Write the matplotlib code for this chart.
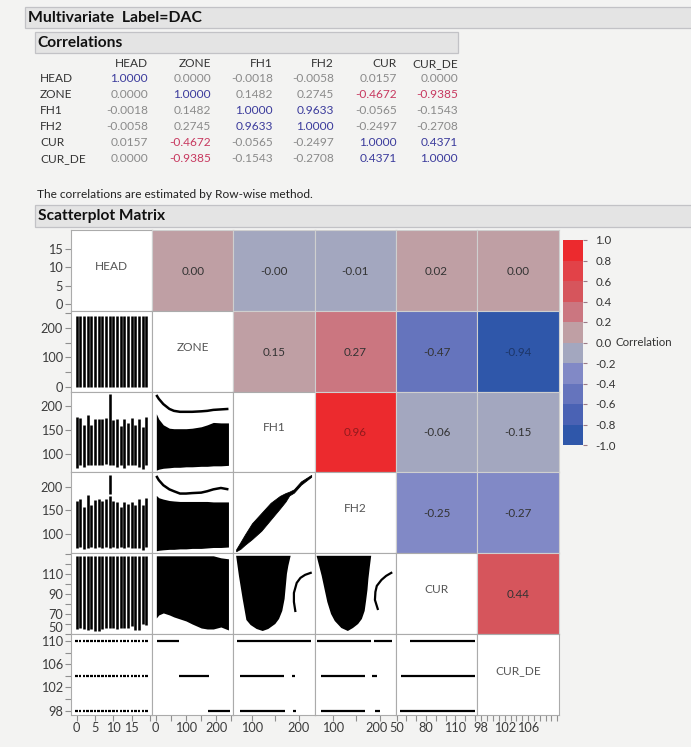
import matplotlib
matplotlib.use('Agg')
import matplotlib.pyplot as plt
from matplotlib.colors import ListedColormap, BoundaryNorm, to_rgb
from matplotlib.patches import Rectangle
from matplotlib.colorbar import ColorbarBase
from matplotlib.transforms import ScaledTranslation

plt.rcParams['font.family'] = ['Lato', 'DejaVu Sans']
plt.rcParams['axes.unicode_minus'] = False

# ---------------- data ----------------
variables = ['HEAD', 'ZONE', 'FH1', 'FH2', 'CUR', 'CUR_DE']
corr = [
    [1.0000, 0.0000, -0.0018, -0.0058, 0.0157, 0.0000],
    [0.0000, 1.0000, 0.1482, 0.2745, -0.4672, -0.9385],
    [-0.0018, 0.1482, 1.0000, 0.9633, -0.0565, -0.1543],
    [-0.0058, 0.2745, 0.9633, 1.0000, -0.2497, -0.2708],
    [0.0157, -0.4672, -0.0565, -0.2497, 1.0000, 0.4371],
    [0.0000, -0.9385, -0.1543, -0.2708, 0.4371, 1.0000],
]

# axis ranges (x as column, y as row)
x_ranges = [(-1.6, 20.5), (-12.3, 256), (59.9, 234.4), (60.8, 234.9), (49.3, 132.4), (97.3, 111.2)]
y_ranges = [(-1.9, 20.3), (-17, 258), (61.4, 228.9), (57.7, 231.5), (50, 130.6), (97.3, 111.2)]
x_major = [[0, 5, 10, 15], [0, 100, 200], [100, 200], [100, 200], [50, 80, 110], [98, 102, 106]]
x_minor = [[20], [50, 150, 250], [150], [150], [60, 70, 90, 100, 120, 130],
           [99, 100, 101, 103, 104, 105, 107, 108, 109, 110, 111]]
y_major = [[0, 5, 10, 15], [0, 100, 200], [100, 150, 200], [100, 150, 200], [50, 70, 90, 110], [98, 102, 106, 110]]
y_minor = [[], [50, 150, 250], [], [], [60, 80, 100, 120, 130], [100, 104, 108]]

# HEAD levels and per-level extents
head_levels = [0, 1, 2, 3, 4, 5, 6, 7, 8, 9, 10, 11, 12, 13, 14, 15, 16, 17, 18, 19]
zone_bar_low = [0, 0, 0, 0, 0, 0, 0, 0, 0, 0, 0, 0, 0, 0, 0, 0, 0, 0, 0, 0]
zone_bar_high = [240, 240, 240, 240, 240, 240, 240, 240, 240, 240, 240, 240, 240, 240, 240, 240, 240, 240, 240, 240]
fh1_bar_low = [70, 76, 72, 77, 76, 77, 76, 77, 79, 76, 76, 72, 76, 70, 77, 76, 76, 72, 69, 76]
fh1_bar_high = [176, 174, 159, 181, 160, 172, 172, 172, 174, 224, 169, 172, 157, 172, 163, 174, 160, 172, 155, 177]
fh2_bar_low = [68, 71, 66, 69, 71, 69, 71, 69, 71, 68, 71, 68, 71, 68, 71, 68, 69, 68, 64, 71]
fh2_bar_high = [171, 174, 157, 182, 162, 173, 174, 171, 175, 180, 169, 168, 157, 168, 164, 168, 161, 174, 162, 176]
fh2_extra_head = [9]
fh2_extra_low = [186]
fh2_extra_high = [225]
cur_bar_low = [55, 56, 55, 54, 55, 53, 53, 55, 56, 56, 56, 55, 56, 56, 56, 58, 54, 54, 60, 59]
cur_bar_high = [128, 128, 128, 128, 128, 128, 128, 128, 128, 128, 128, 128, 128, 128, 128, 128, 128, 128, 128, 128]
curde_levels = [98, 104, 110]

# ZONE profiles
zone_grid = [2, 10, 25, 45, 60, 80, 100, 120, 150, 170, 190, 215, 240]
fh1_zone_bottom = [66, 68, 70, 71, 72, 72, 73, 73, 74, 74, 75, 75, 76]
fh1_zone_top = [183, 172, 160, 153, 152, 152, 152, 153, 156, 160, 165, 164, 164]
fh1_zone_curve = [222, 214, 203, 193, 189, 187, 187, 187, 188, 189, 191, 192, 193]
fh2_zone_bottom = [63, 64, 65, 66, 66, 67, 67, 68, 68, 69, 70, 70, 71]
fh2_zone_top = [182, 177, 174, 171, 170, 169, 169, 169, 169, 169, 168, 168, 168]
fh2_zone_curve = [224, 215, 204, 195, 191, 186, 186, 187, 188, 191, 195, 198, 195]
cur_zone_bottom = [66, 69, 71, 69, 67, 65, 63, 60, 56, 55, 55, 57, 54]
cur_zone_top = [128, 128, 128, 128, 128, 128, 128, 128, 128, 128, 128, 126, 125]

# FH2 vs FH1 band
fh1_band = [66, 75, 85, 100, 120, 140, 160, 172, 180, 190, 205, 227]
fh2_band_low = [62, 67, 76, 88, 106, 130, 154, 169, 182, 188, 205, 222]
fh2_band_high = [66, 81, 98, 122, 144, 166, 181, 187, 190, 195, 212, 226]

# CUR vs FH1 / FH2 outlines
cur_fh1_outline_x = [66, 183, 178, 175, 172, 170, 165, 158, 150, 135, 123, 110, 97, 88, 80, 72]
cur_fh1_outline_y = [128, 128, 118, 110, 95, 85, 73, 65, 60, 55, 53, 55, 59, 64, 85, 108]
cur_fh1_curve_x = [193, 190, 190, 196, 204, 214, 226]
cur_fh1_curve_y = [73, 82, 91, 101, 106, 109, 111]
cur_fh2_outline_x = [65, 182, 179, 176, 174, 171, 168, 162, 154, 143, 132, 118, 104, 96, 88, 76]
cur_fh2_outline_y = [128, 128, 117, 105, 94, 83, 73, 65, 60, 56, 53, 56, 63, 70, 82, 108]
cur_fh2_curve_x = [196, 190, 191, 194, 204, 214, 225]
cur_fh2_curve_y = [75, 84, 92, 98, 104, 108, 111]

# CUR_DE segments (level, start, end)
curde_zone_level = [110, 104, 98]
curde_zone_start = [3, 77, 171]
curde_zone_end = [78, 176, 244]
curde_fh1_level = [110, 104, 104, 98, 98]
curde_fh1_start = [67, 74, 186, 75, 187]
curde_fh1_end = [227, 168, 193, 170, 195]
curde_fh2_level = [110, 110, 104, 104, 98, 98]
curde_fh2_start = [65, 188, 74, 183, 74, 190]
curde_fh2_end = [182, 226, 169, 194, 169, 200]
curde_cur_level = [110, 104, 98]
curde_cur_start = [64, 55, 53]
curde_cur_end = [130, 130, 130]

# colour scale
cb_bounds = [-1.0, -0.8, -0.6, -0.4, -0.2, 0.0, 0.2, 0.4, 0.6, 0.8, 1.0]
cb_colors = ['#2f57aa', '#4a62b4', '#6574bd', '#8189c6', '#a3a7bf',
             '#bf9fa4', '#cb7680', '#d6555c', '#e24248', '#ec2a2e']
cb_ticks = [1.0, 0.8, 0.6, 0.4, 0.2, 0.0, -0.2, -0.4, -0.6, -0.8, -1.0]

# ---------------- figure ----------------
W, H = 691, 747
fig = plt.figure(figsize=(W / 100, H / 100), dpi=100)
fig.patch.set_facecolor('#f3f3f2')


def box(x, y, w, h):
    return [x / W, 1 - (y + h) / H, w / W, h / H]


def header(x0, y0, x1, y1, text, size):
    fig.patches.append(Rectangle((x0 / W, 1 - y1 / H), (x1 - x0) / W, (y1 - y0) / H,
                                 transform=fig.transFigure, facecolor='#e4e4e4',
                                 edgecolor='#c2c2c6', lw=0.9))
    fig.text((x0 + 2.5) / W, 1 - ((y0 + y1) / 2) / H, text, fontsize=size,
             fontweight='bold', va='center', ha='left', color='#111111')


header(25, 7.5, 700, 28, 'Multivariate  Label=DAC', 11.3)
header(35, 32.5, 458, 53, 'Correlations', 11.2)

# correlation table
col_right = [148, 211, 273, 334, 397, 458]
row_y = [79, 95, 111, 127, 143, 159]
tfs = 8.6
for j, name in enumerate(variables):
    fig.text(col_right[j] / W, 1 - 63.5 / H, name, ha='right', va='center', fontsize=tfs, color='#333333')
for i, name in enumerate(variables):
    fig.text(40 / W, 1 - row_y[i] / H, name, ha='left', va='center', fontsize=tfs, color='#333333')
    for j in range(6):
        r = corr[i][j]
        if r >= 0.4:
            c = '#3b3b9c'
        elif r <= -0.4:
            c = '#c7385f'
        else:
            c = '#8a8a8a'
        fig.text(col_right[j] / W, 1 - row_y[i] / H, f'{r:.4f}', ha='right', va='center',
                 fontsize=tfs, color=c)

fig.text(37 / W, 1 - 194 / H, 'The correlations are estimated by Row-wise method.',
         ha='left', va='center', fontsize=tfs, color='#222222')

header(35, 205, 700, 226.5, 'Scatterplot Matrix', 11.2)

# ---------------- scatterplot matrix ----------------
cmap = ListedColormap(cb_colors)
norm = BoundaryNorm(cb_bounds, cmap.N)

left0, top0, cw, ch = 70.7, 230.0, 81.3, 80.8
BAR_LW = 1.85
axes = {}
for i in range(6):
    for j in range(6):
        ax = fig.add_axes(box(left0 + j * cw, top0 + i * ch, cw, ch))
        axes[(i, j)] = ax
        ax.set_xlim(*x_ranges[j])
        ax.set_ylim(*y_ranges[i])
        for s in ax.spines.values():
            s.set_color('#ababab')
            s.set_linewidth(0.8)
        ax.tick_params(which='both', direction='out', length=4, width=0.8,
                       color='#8f8f8f', labelsize=9.2, labelcolor='#3c3c3c', pad=1.5)
        if j == 0:
            ax.set_yticks(y_major[i])
            ax.set_yticks(y_minor[i], minor=True)
            ax.set_yticklabels([str(v) for v in y_major[i]])
        else:
            ax.set_yticks([])
            ax.set_yticks([], minor=True)
        if i == 5:
            ax.set_xticks(x_major[j])
            ax.set_xticks(x_minor[j], minor=True)
            ax.set_xticklabels([str(v) for v in x_major[j]])
        else:
            ax.set_xticks([])
            ax.set_xticks([], minor=True)
        if i == j:
            ax.set_facecolor('white')
            ax.text(0.5, 0.55, variables[i], transform=ax.transAxes, ha='center', va='center',
                    fontsize=8.6, color='#555555')
        elif j > i:
            r = corr[i][j]
            fc = cmap(norm(r))
            ax.set_facecolor(fc)
            for s in ax.spines.values():
                s.set_color('#cfcfcf')
            if abs(r) >= 0.9:
                rgb = to_rgb(fc)
                tc = tuple(0.62 * v for v in rgb)
            else:
                tc = '#333333'
            ax.text(0.5, 0.49, f'{r:.2f}', transform=ax.transAxes, ha='center', va='center',
                    fontsize=8.4, color=tc)
        else:
            ax.set_facecolor('white')


def nudge(label, dx_px, dy_px=0):
    label.set_transform(label.get_transform() +
                        ScaledTranslation(dx_px / 100, dy_px / 100, fig.dpi_scale_trans))


# keep crowded labels apart (the original nudges them the same way)
axes[(4, 0)].get_yticklabels()[0].set_verticalalignment('bottom')
nudge(axes[(5, 3)].get_xticklabels()[1], -3)

k = 'k'
# row ZONE
axes[(1, 0)].vlines(head_levels, zone_bar_low, zone_bar_high, color=k, lw=BAR_LW)
# row FH1
axes[(2, 0)].vlines(head_levels, fh1_bar_low, fh1_bar_high, color=k, lw=BAR_LW)
a = axes[(2, 1)]
a.fill_between(zone_grid, fh1_zone_bottom, fh1_zone_top, color=k, lw=0)
a.plot(zone_grid, fh1_zone_curve, color=k, lw=1.8, solid_capstyle='butt')
# row FH2
axes[(3, 0)].vlines(head_levels, fh2_bar_low, fh2_bar_high, color=k, lw=BAR_LW)
axes[(3, 0)].vlines(fh2_extra_head, fh2_extra_low, fh2_extra_high, color=k, lw=BAR_LW)
a = axes[(3, 1)]
a.fill_between(zone_grid, fh2_zone_bottom, fh2_zone_top, color=k, lw=0)
a.plot(zone_grid, fh2_zone_curve, color=k, lw=1.8, solid_capstyle='butt')
axes[(3, 2)].fill_between(fh1_band, fh2_band_low, fh2_band_high, color=k, lw=0.6, edgecolor=k)
# row CUR
axes[(4, 0)].vlines(head_levels, cur_bar_low, cur_bar_high, color=k, lw=BAR_LW)
axes[(4, 1)].fill_between(zone_grid, cur_zone_bottom, cur_zone_top, color=k, lw=0)
a = axes[(4, 2)]
a.fill(cur_fh1_outline_x, cur_fh1_outline_y, color=k, lw=0)
a.plot(cur_fh1_curve_x, cur_fh1_curve_y, color=k, lw=1.6)
a = axes[(4, 3)]
a.fill(cur_fh2_outline_x, cur_fh2_outline_y, color=k, lw=0)
a.plot(cur_fh2_curve_x, cur_fh2_curve_y, color=k, lw=1.6)
# row CUR_DE
a = axes[(5, 0)]
for lev in curde_levels:
    a.hlines([lev] * len(head_levels), [h - 0.33 for h in head_levels],
             [h + 0.33 for h in head_levels], color=k, lw=1.6)
axes[(5, 1)].hlines(curde_zone_level, curde_zone_start, curde_zone_end, color=k, lw=1.6)
axes[(5, 2)].hlines(curde_fh1_level, curde_fh1_start, curde_fh1_end, color=k, lw=1.6)
axes[(5, 3)].hlines(curde_fh2_level, curde_fh2_start, curde_fh2_end, color=k, lw=1.6)
axes[(5, 4)].hlines(curde_cur_level, curde_cur_start, curde_cur_end, color=k, lw=1.6)

# ---------------- colour bar ----------------
cax = fig.add_axes(box(563, 240, 20, 205))
cb = ColorbarBase(cax, cmap=cmap, norm=norm, boundaries=cb_bounds, ticks=cb_ticks,
                  orientation='vertical')
cb.outline.set_visible(False)
cb.ax.set_yticklabels([f'{t:.1f}' for t in cb_ticks])
cb.ax.tick_params(length=3, width=0.8, color='#9a7a86', labelsize=8.3,
                  labelcolor='#333333', pad=6)
fig.text(615 / W, 1 - 343 / H, 'Correlation', ha='left', va='center', fontsize=8.3, color='#333333')

fig.savefig('out.png', dpi=100, facecolor=fig.get_facecolor())
